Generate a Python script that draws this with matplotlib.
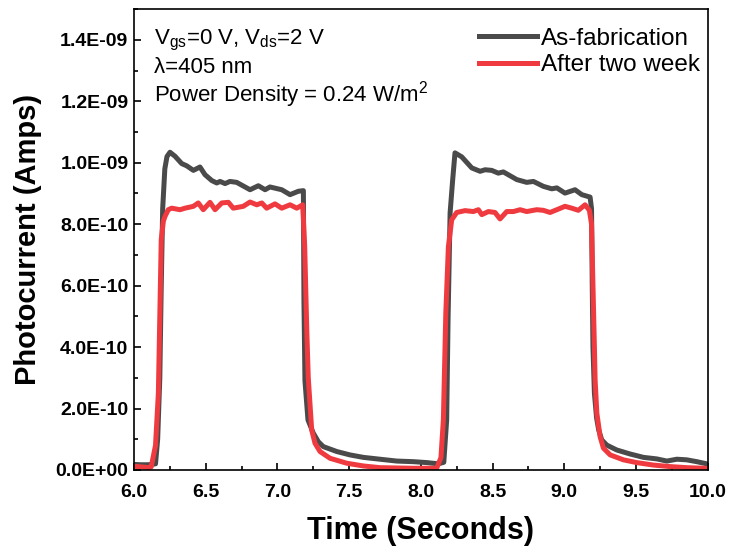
import numpy as np
import matplotlib
matplotlib.use('agg')
from matplotlib import pyplot as plt
from matplotlib.ticker import FixedLocator, FuncFormatter

plt.rcParams['font.family'] = ['Liberation Sans', 'DejaVu Sans']
plt.rcParams['mathtext.fontset'] = 'custom'
plt.rcParams['mathtext.rm'] = 'Liberation Sans'

# Photocurrent, in units of 1E-10 A
t_fab = [6.00, 6.05, 6.10, 6.15, 6.165, 6.18, 6.19, 6.20, 6.215, 6.23,
         6.251, 6.286, 6.333, 6.367, 6.414, 6.46, 6.495, 6.542, 6.577, 6.60,
         6.635, 6.669, 6.716, 6.809, 6.867, 6.914, 6.948, 7.03, 7.088, 7.146,
         7.181, 7.185, 7.192, 7.213, 7.25, 7.285, 7.32, 7.414, 7.506, 7.599,
         7.715, 7.832, 7.948, 8.041, 8.122, 8.16, 8.18, 8.19, 8.204, 8.222,
         8.238, 8.285, 8.355, 8.413, 8.448, 8.494, 8.54, 8.575, 8.669, 8.738,
         8.785, 8.854, 8.913, 8.948, 9.005, 9.075, 9.122, 9.18, 9.19, 9.195,
         9.20, 9.21, 9.225, 9.24, 9.261, 9.296, 9.366, 9.459, 9.552, 9.645,
         9.715, 9.785, 9.854, 9.924, 9.993, 10.0]
i_fab = [0.18, 0.17, 0.17, 0.2, 1.0, 3.0, 6.0, 8.5, 9.8, 10.2,
         10.34, 10.21, 9.97, 9.90, 9.75, 9.86, 9.61, 9.42, 9.34, 9.39,
         9.32, 9.39, 9.36, 9.12, 9.25, 9.12, 9.21, 9.12, 8.96, 9.07,
         9.09, 5.5, 2.9, 1.63, 1.20, 0.92, 0.76, 0.60, 0.49, 0.41,
         0.35, 0.29, 0.27, 0.24, 0.20, 0.25, 1.63, 5.0, 8.37, 9.45,
         10.32, 10.19, 9.83, 9.72, 9.77, 9.75, 9.66, 9.70, 9.45, 9.36,
         9.39, 9.23, 9.15, 9.18, 9.01, 9.12, 8.96, 8.88, 8.5, 6.0,
         4.0, 2.5, 1.7, 1.3, 0.98, 0.81, 0.65, 0.52, 0.41, 0.36,
         0.29, 0.35, 0.33, 0.27, 0.20, 0.19]

t_aged = [6.00, 6.05, 6.10, 6.12, 6.15, 6.17, 6.18, 6.19, 6.205, 6.216,
          6.239, 6.263, 6.321, 6.356, 6.414, 6.448, 6.483, 6.53, 6.565, 6.612,
          6.658, 6.692, 6.762, 6.809, 6.856, 6.891, 6.925, 6.983, 7.03, 7.088,
          7.135, 7.176, 7.19, 7.205, 7.215, 7.239, 7.262, 7.297, 7.367, 7.483,
          7.60, 7.715, 7.948, 8.11, 8.14, 8.157, 8.174, 8.192, 8.215, 8.25,
          8.308, 8.366, 8.401, 8.425, 8.471, 8.517, 8.552, 8.599, 8.645, 8.692,
          8.738, 8.808, 8.854, 8.901, 8.948, 9.005, 9.052, 9.098, 9.145, 9.175,
          9.19, 9.20, 9.21, 9.215, 9.227, 9.25, 9.273, 9.32, 9.412, 9.505,
          9.621, 9.738, 9.854, 9.98, 10.0]
i_aged = [0.12, 0.10, 0.08, 0.1, 0.8, 2.5, 5.0, 7.5, 8.1, 8.25,
          8.47, 8.52, 8.47, 8.52, 8.58, 8.69, 8.47, 8.71, 8.47, 8.69,
          8.71, 8.52, 8.58, 8.72, 8.63, 8.69, 8.52, 8.66, 8.52, 8.63,
          8.52, 8.63, 7.3, 4.5, 3.0, 1.30, 0.87, 0.60, 0.38, 0.22,
          0.13, 0.075, 0.055, 0.055, 0.4, 1.63, 5.1, 7.27, 8.14, 8.38,
          8.44, 8.41, 8.47, 8.31, 8.41, 8.38, 8.17, 8.41, 8.41, 8.47,
          8.41, 8.47, 8.45, 8.38, 8.47, 8.58, 8.52, 8.45, 8.63, 8.45,
          8.0, 6.0, 4.0, 2.93, 1.85, 1.08, 0.71, 0.49, 0.33, 0.24,
          0.16, 0.11, 0.075, 0.055, 0.05]

labels = ['As-fabrication', 'After two week']
colors = ['#4a4a4a', '#ef3b40']
notes = ['V$\\mathregular{_{gs}}$=0 V, V$\\mathregular{_{ds}}$=2 V',
         '\u03bb=405 nm',
         'Power Density = 0.24 W/m$\\mathregular{^{2}}$']
x_ticks = [6.0, 6.5, 7.0, 7.5, 8.0, 8.5, 9.0, 9.5, 10.0]
y_ticks = [0.0, 2e-10, 4e-10, 6e-10, 8e-10, 1e-9, 1.2e-9, 1.4e-9]

fig = plt.figure(figsize=(7.29, 5.52), dpi=100)
ax = fig.add_axes([0.1838, 0.1486, 0.787, 0.835])

ax.plot(t_fab, np.array(i_fab) * 1e-10, color=colors[0], lw=3.6, label=labels[0])
ax.plot(t_aged, np.array(i_aged) * 1e-10, color=colors[1], lw=3.6, label=labels[1])

ax.set_xlim(6.0, 10.0)
ax.set_ylim(0, 1.5e-9)
ax.xaxis.set_major_locator(FixedLocator(x_ticks))
ax.xaxis.set_minor_locator(FixedLocator([v + 0.25 for v in x_ticks[:-1]]))
ax.yaxis.set_major_locator(FixedLocator(y_ticks))
ax.yaxis.set_minor_locator(FixedLocator([v + 1e-10 for v in y_ticks]))
ax.xaxis.set_major_formatter(FuncFormatter(lambda v, p: f'{v:.1f}'))
ax.yaxis.set_major_formatter(FuncFormatter(lambda v, p: f'{v:.1E}'))

ax.tick_params(which='both', direction='in', top=False, right=False, width=1.2)
ax.tick_params(which='major', length=5)
ax.tick_params(which='minor', length=3)
ax.tick_params(axis='x', pad=10)
ax.tick_params(axis='y', pad=4)
for lab in ax.get_xticklabels() + ax.get_yticklabels():
    lab.set_fontweight('bold')
    lab.set_fontsize(14)
for s in ax.spines.values():
    s.set_linewidth(1.2)

ax.set_xlabel('Time (Seconds)', fontsize=22, fontweight='bold', labelpad=11)
ax.set_ylabel('Photocurrent (Amps)', fontsize=21, fontweight='bold', labelpad=10)

for k, txt in enumerate(notes):
    ax.text(0.035, 0.932 - k * 0.0586, txt, transform=ax.transAxes,
            fontsize=16, va='center', ha='left')

ax.legend(loc='upper right', bbox_to_anchor=(1.0, 0.975), frameon=False,
          fontsize=17.5, handlelength=2.35, handletextpad=0.2,
          labelspacing=0.18, borderaxespad=0.0, borderpad=0.3)

plt.savefig('out.png', dpi=100)
plt.close()
